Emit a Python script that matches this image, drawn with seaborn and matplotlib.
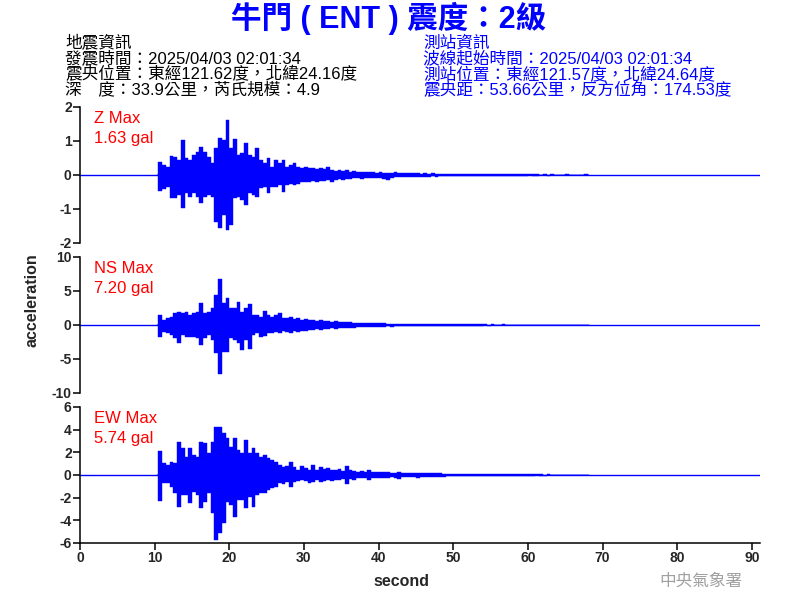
import numpy as np
import pandas as pd
import matplotlib
matplotlib.use('Agg')
import matplotlib.pyplot as plt
import seaborn as sns

# waveform envelope, one max/min pair per 0.5 s bin
t_start = 10.5      # first bin (s)
bin_w = 0.5
t_end = 91.1        # end of record (s)

z_hi = [0.37, 0.30, 0.25, 0.57, 0.54, 0.44, 1.03, 0.49, 0.44, 0.59,
        0.69, 0.81, 0.69, 0.54, 0.34, 0.78, 1.10, 1.03, 1.62, 0.78,
        1.05, 0.59, 0.64, 0.93, 0.59, 0.54, 0.78, 0.44, 0.34, 0.49,
        0.25, 0.44, 0.34, 0.44, 0.25, 0.29, 0.34, 0.25, 0.20, 0.25,
        0.20, 0.22, 0.18, 0.22, 0.17, 0.25, 0.15, 0.13, 0.15, 0.12,
        0.15, 0.10, 0.12, 0.10, 0.08, 0.10, 0.08, 0.10, 0.07, 0.08,
        0.07, 0.07, 0.06, 0.08, 0.07, 0.05, 0.06, 0.05, 0.05, 0.06,
        0.04, 0.05, 0.04, 0.05, 0.04, 0.04, 0.04, 0.04,
        0.04, 0.03, 0.04, 0.03, 0.03, 0.03, 0.02, 0.03, 0.02, 0.03,
        0.02, 0.02, 0.03, 0.02, 0.02, 0.02, 0.02, 0.03, 0.02, 0.02,
        0.02, 0.02, 0.02, 0.02, 0.01, 0.02, 0.01, 0.02, 0.01, 0.01,
        0.01, 0.02, 0.01, 0.01, 0.01, 0.01, 0.02]
z_lo = [-0.46, -0.40, -0.34, -0.69, -0.69, -0.59, -0.98, -0.54, -0.64, -0.54,
        -0.64, -0.83, -0.64, -0.59, -0.64, -1.37, -1.57, -1.18, -1.63, -1.47,
        -0.69, -0.64, -0.74, -0.88, -0.54, -0.59, -0.64, -0.39, -0.34, -0.54,
        -0.34, -0.34, -0.29, -0.49, -0.29, -0.25, -0.29, -0.25, -0.20, -0.22,
        -0.20, -0.18, -0.20, -0.18, -0.17, -0.15, -0.20, -0.15, -0.13, -0.15,
        -0.12, -0.12, -0.10, -0.10, -0.12, -0.08, -0.10, -0.08, -0.10, -0.08,
        -0.12, -0.14, -0.08, -0.06, -0.07, -0.06, -0.07, -0.05, -0.06, -0.05,
        -0.05, -0.05, -0.05, -0.04, -0.05, -0.04, -0.04, -0.03,
        -0.04, -0.03, -0.03, -0.04, -0.03, -0.02, -0.03, -0.02, -0.03, -0.02,
        -0.03, -0.02, -0.02, -0.02, -0.03, -0.02, -0.02, -0.02, -0.02, -0.02,
        -0.02, -0.01, -0.02, -0.02, -0.01, -0.01, -0.02, -0.01, -0.01, -0.01,
        -0.01, -0.01, -0.01, -0.01, -0.01, -0.01, -0.01]

ns_hi = [1.47, 0.74, 0.98, 1.23, 1.72, 1.96, 1.72, 1.86, 1.47, 1.72,
         1.96, 3.19, 1.72, 1.96, 2.50, 4.41, 6.76, 3.19, 3.92, 2.45,
         2.45, 3.43, 1.96, 2.45, 3.04, 1.47, 1.47, 1.23, 2.06, 1.47,
         1.23, 1.47, 1.81, 0.98, 0.98, 1.23, 0.83, 0.98, 0.80, 0.83,
         0.74, 0.70, 0.60, 0.70, 0.60, 0.55, 0.50, 0.60, 0.45, 0.50,
         0.45, 0.40, 0.35, 0.35, 0.30, 0.35, 0.30, 0.28, 0.25, 0.30,
         0.25, 0.22, 0.20, 0.22, 0.20, 0.18, 0.20, 0.16, 0.16, 0.15,
         0.14, 0.15, 0.13, 0.12, 0.12, 0.12, 0.10, 0.10,
         0.10, 0.10, 0.12, 0.09, 0.10, 0.08, 0.10, 0.08, 0.08, 0.09,
         0.07, 0.08, 0.07, 0.06, 0.08, 0.06, 0.06, 0.05, 0.06, 0.05,
         0.05, 0.06, 0.05, 0.04, 0.04, 0.05, 0.04, 0.04, 0.04, 0.04,
         0.03, 0.04, 0.03, 0.05, 0.03, 0.03, 0.03]
ns_lo = [-1.72, -0.98, -1.13, -1.47, -1.96, -2.70, -1.47, -1.81, -1.81, -1.72,
         -1.96, -2.94, -1.96, -1.47, -2.20, -4.17, -7.20, -3.92, -3.92, -1.96,
         -2.20, -2.70, -3.68, -2.20, -3.58, -1.47, -1.23, -1.72, -1.62, -1.13,
         -1.23, -0.98, -1.23, -0.83, -0.98, -1.23, -0.83, -0.98, -0.90, -0.83,
         -0.70, -0.80, -0.60, -0.70, -0.55, -0.60, -0.50, -0.55, -0.50, -0.45,
         -0.40, -0.40, -0.40, -0.35, -0.35, -0.30, -0.30, -0.30, -0.25, -0.35,
         -0.25, -0.22, -0.25, -0.20, -0.20, -0.20, -0.18, -0.16, -0.18, -0.15,
         -0.14, -0.13, -0.13, -0.12, -0.12, -0.11, -0.10, -0.10,
         -0.10, -0.12, -0.09, -0.10, -0.08, -0.10, -0.08, -0.09, -0.08, -0.07,
         -0.08, -0.07, -0.06, -0.07, -0.06, -0.06, -0.05, -0.06, -0.05, -0.05,
         -0.06, -0.05, -0.04, -0.05, -0.04, -0.04, -0.05, -0.04, -0.04, -0.03,
         -0.04, -0.03, -0.03, -0.03, -0.03, -0.03, -0.03]

ew_hi = [2.12, 1.03, 0.88, 1.18, 1.03, 2.94, 2.35, 1.62, 2.35, 1.76,
         1.62, 2.94, 2.79, 1.91, 2.94, 4.26, 4.26, 3.68, 3.24, 2.50,
         3.24, 2.20, 1.91, 3.09, 1.91, 2.35, 1.91, 1.62, 1.76, 1.47,
         1.32, 1.18, 0.88, 0.74, 0.82, 1.18, 0.74, 0.44, 0.82, 0.59,
         0.44, 0.88, 0.44, 0.74, 0.50, 0.59, 0.40, 0.40, 0.50, 0.35,
         0.79, 0.40, 0.35, 0.30, 0.35, 0.30, 0.40, 0.30, 0.25, 0.30,
         0.25, 0.25, 0.20, 0.20, 0.25, 0.20, 0.20, 0.18, 0.20, 0.20,
         0.15, 0.18, 0.15, 0.15, 0.15, 0.15, 0.12, 0.12,
         0.12, 0.12, 0.10, 0.10, 0.12, 0.09, 0.10, 0.09, 0.08, 0.09,
         0.08, 0.08, 0.10, 0.07, 0.07, 0.06, 0.07, 0.06, 0.06, 0.06,
         0.05, 0.05, 0.06, 0.05, 0.05, 0.04, 0.05, 0.04, 0.04, 0.04,
         0.04, 0.04, 0.03, 0.04, 0.03, 0.03, 0.03]
ew_lo = [-2.29, -0.74, -0.74, -1.03, -1.62, -2.79, -1.76, -1.76, -2.50, -1.47,
         -1.76, -2.94, -2.35, -1.62, -3.38, -5.74, -5.15, -4.26, -2.35, -2.65,
         -3.68, -2.20, -2.20, -2.94, -1.91, -2.79, -1.76, -1.62, -1.62, -1.32,
         -1.18, -1.03, -0.74, -0.82, -0.59, -1.03, -0.59, -0.53, -0.44, -0.53,
         -0.74, -0.59, -0.44, -0.65, -0.50, -0.44, -0.50, -0.40, -0.40, -0.35,
         -0.82, -0.35, -0.40, -0.30, -0.30, -0.30, -0.45, -0.30, -0.30, -0.25,
         -0.25, -0.30, -0.20, -0.25, -0.35, -0.20, -0.20, -0.20, -0.18, -0.25,
         -0.15, -0.20, -0.20, -0.15, -0.18, -0.15, -0.15, -0.12,
         -0.12, -0.10, -0.12, -0.10, -0.09, -0.10, -0.09, -0.08, -0.10, -0.08,
         -0.08, -0.07, -0.08, -0.07, -0.06, -0.07, -0.06, -0.06, -0.05, -0.06,
         -0.05, -0.06, -0.05, -0.04, -0.05, -0.05, -0.04, -0.04, -0.04, -0.03,
         -0.04, -0.03, -0.04, -0.03, -0.03, -0.03, -0.03]

components = ['Z', 'NS', 'EW']
max_gal = ['1.63', '7.20', '5.74']
y_ticks = [[-2, -1, 0, 1, 2], [-10, -5, 0, 5, 10], [-6, -4, -2, 0, 2, 4, 6]]
x_ticks = list(range(0, 100, 10))

title = '牛門 ( ENT ) 震度：2級'
quake_info = ['地震資訊',
              '發震時間：2025/04/03 02:01:34',
              '震央位置：東經121.62度，北緯24.16度',
              '深　度：33.9公里，芮氏規模：4.9']
station_info = ['測站資訊',
                '波線起始時間：2025/04/03 02:01:34',
                '測站位置：東經121.57度，北緯24.64度',
                '震央距：53.66公里，反方位角：174.53度']


def trace_df(hi, lo, comp):
    # one row per 0.5 s bin (band swept by the trace), with a quiet
    # bin on each side so the step fill starts and ends on the zero line
    assert len(hi) == len(lo)
    t = t_start + bin_w * (np.arange(-1, len(hi) + 1) + 0.5)
    return pd.DataFrame({'second': t,
                         'hi': np.r_[0.0, hi, 0.0],
                         'lo': np.r_[0.0, lo, 0.0],
                         'comp': comp})


df = pd.concat([trace_df(z_hi, z_lo, 'Z'),
                trace_df(ns_hi, ns_lo, 'NS'),
                trace_df(ew_hi, ew_lo, 'EW')], ignore_index=True)
# quiet record before/after the shaking (zero line)
base = pd.DataFrame({'second': [0.0, t_end], 'acceleration': [0.0, 0.0]})

sns.set_theme(style='ticks')
plt.rcParams['font.family'] = ['Liberation Sans', 'Noto Sans CJK TC']
cjk = ['Liberation Sans', 'Noto Sans CJK TC']
wave_blue = '#0000ff'

W, H = 800, 600
fig = plt.figure(figsize=(8, 6), dpi=100)


def px(x, y):
    return x / W, 1 - y / H


panel_tops = [107, 257, 407]
for i, comp in enumerate(components):
    top = panel_tops[i]
    ax = fig.add_axes([80 / W, 1 - (top + 136) / H, 680 / W, 136 / H])
    d = df[df.comp == comp]
    sns.lineplot(data=base, x='second', y='acceleration', ax=ax,
                 color=wave_blue, lw=1.0, estimator=None)
    ax.fill_between(d['second'], d['lo'], d['hi'], step='mid',
                    color=wave_blue, lw=0.3)
    ax.set_xlim(0, t_end)
    lim = max(abs(v) for v in y_ticks[i])
    ax.set_ylim(-lim, lim)
    ax.set_yticks(y_ticks[i], labels=[str(v) for v in y_ticks[i]],
                  fontweight='bold', fontsize=10)
    ax.set_xlabel('')
    ax.set_ylabel('')
    ax.tick_params(axis='both', direction='out', length=5, width=1.1,
                   color='black', pad=1)
    for s in ax.spines.values():
        s.set_linewidth(1.1)
        s.set_color('black')
    if i < 2:
        sns.despine(ax=ax, bottom=True)
        ax.set_xticks([])
    else:
        sns.despine(ax=ax)
        ax.set_xticks(x_ticks, labels=[str(v) for v in x_ticks],
                      fontweight='bold', fontsize=10)
    fig.text(*px(94, top + 16), f'{comp} Max', color='#ff0000', fontsize=12,
             va='baseline', ha='left')
    fig.text(*px(94, top + 36), f'{max_gal[i]} gal', color='#ff0000',
             fontsize=12, va='baseline', ha='left')

# header
fig.text(*px(389, 18), title, ha='center', va='center', fontsize=22,
         fontweight='bold', color=wave_blue, family=cjk)
for k, line in enumerate(quake_info):
    fig.text(*px(65, 43 + 15.6 * k), line, ha='left', va='center',
             fontsize=12, color='black', family=cjk)
for k, line in enumerate(station_info):
    fig.text(*px(423, 43 + 15.6 * k), line, ha='left', va='center',
             fontsize=12, color=wave_blue, family=cjk)

fig.text(*px(32, 300), 'acceleration', rotation=90, ha='center', va='center',
         fontsize=11.5, fontweight='bold')
fig.text(*px(401, 581), 'second', ha='center', va='center',
         fontsize=11.5, fontweight='bold')
fig.text(*px(701, 581), '中央氣象署', ha='center', va='center',
         fontsize=12, color='#a0a0a0', family=['Noto Sans CJK TC'])

fig.savefig('out.png', dpi=100)
